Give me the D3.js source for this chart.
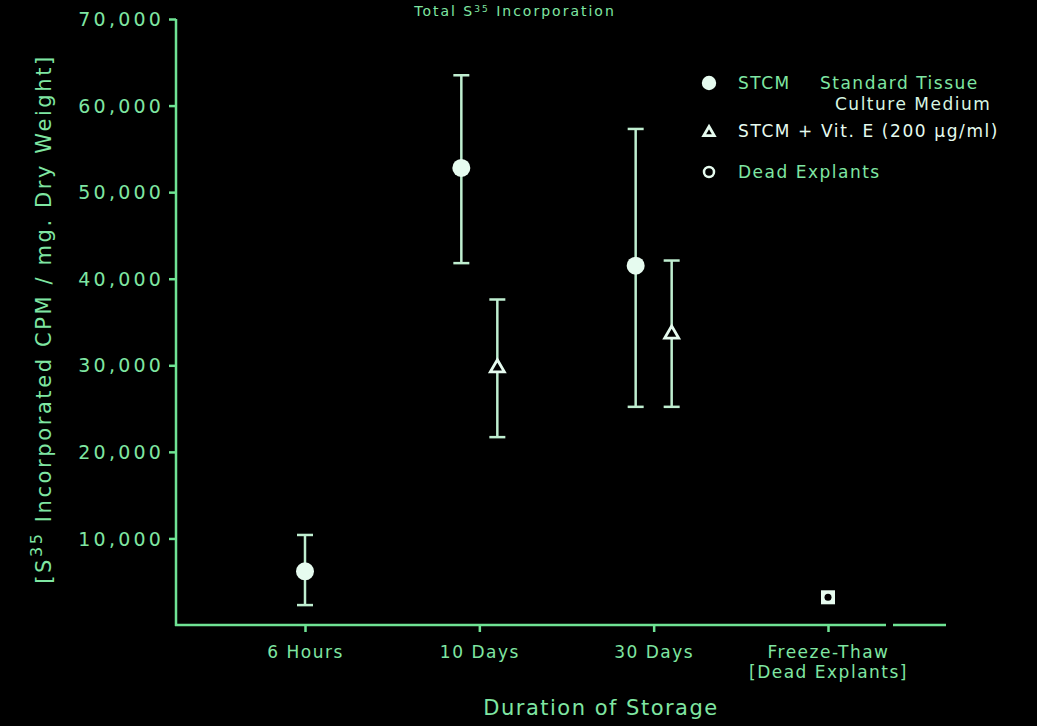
<!DOCTYPE html>
<html><head><meta charset="utf-8">
<script src="https://cdn.jsdelivr.net/npm/d3@7"></script>
<style>
html,body{margin:0;padding:0;background:#000;}
svg{display:block;}
text{font-family:"DejaVu Sans",sans-serif;}
</style></head>
<body>
<svg id="c" width="1037" height="726"></svg>
<script>
const categories = ["6 Hours", "10 Days", "30 Days", "Freeze-Thaw"];
const categoryLine2 = ["", "", "", "[Dead Explants]"];
const yTicks = [10000, 20000, 30000, 40000, 50000, 60000, 70000];

const stcmMean = [6200, 52800, 41500, null];
const stcmLow  = [2300, 41800, 25200, null];
const stcmHigh = [10400, 63500, 57300, null];

const vitEMean = [null, 29800, 33700, null];
const vitELow  = [null, 21700, 25200, null];
const vitEHigh = [null, 37600, 42100, null];

const deadMean = [null, null, null, 3200];

const seriesNames = ["STCM", "Vit. E", "Dead"];

const green = "#7fe6a2";
const white = "#e6fbef";
const axisGreen = "#6fe394";

const svg = d3.select("#c");
const x0 = 176, yBase = 625;
const x = d3.scalePoint().domain(categories).range([305, 828]);
const y = d3.scaleLinear().domain([0, 70000]).range([yBase, 19]);

// title
svg.append("text").attr("x", 515).attr("y", 16).attr("text-anchor", "middle")
  .attr("fill", green).attr("font-size", 14).attr("letter-spacing", 2)
  .html('Total S<tspan dy="-4" font-size="9">35</tspan><tspan dy="4"> Incorporation</tspan>');

// y axis
const yAxis = svg.append("g").attr("transform", `translate(${x0},0)`)
  .call(d3.axisLeft(y).tickValues(yTicks).tickSize(7).tickPadding(5).tickFormat(d3.format(",")));
yAxis.select(".domain").remove();
yAxis.selectAll("line").attr("stroke", axisGreen).attr("stroke-width", 2.5);
yAxis.selectAll("text").attr("fill", green).attr("font-size", 19).attr("letter-spacing", 3.2).attr("dy", "0.35em");
svg.append("line").attr("x1", x0).attr("x2", x0).attr("y1", y(70000)).attr("y2", yBase + 1)
  .attr("stroke", axisGreen).attr("stroke-width", 2.5);

// x axis with break
svg.append("line").attr("x1", x0 - 1).attr("x2", 886).attr("y1", yBase).attr("y2", yBase)
  .attr("stroke", axisGreen).attr("stroke-width", 2.5);
svg.append("line").attr("x1", 893).attr("x2", 946).attr("y1", yBase).attr("y2", yBase)
  .attr("stroke", axisGreen).attr("stroke-width", 2.5);
const xAxis = svg.append("g").attr("transform", `translate(0,${yBase})`)
  .call(d3.axisBottom(x).tickSize(7).tickPadding(14));
xAxis.select(".domain").remove();
xAxis.selectAll("line").attr("stroke", axisGreen).attr("stroke-width", 2.5);
xAxis.selectAll("text").attr("fill", green).attr("font-size", 17).attr("letter-spacing", 1.5);
xAxis.selectAll(".tick").each(function(d) {
  const t = categoryLine2[categories.indexOf(d)];
  if (t) d3.select(this).append("text").attr("y", 41).attr("dy", "0.71em")
    .attr("fill", green).attr("font-size", 17).attr("letter-spacing", 1.5)
    .attr("text-anchor", "middle").text(t);
});

// axis titles
svg.append("text").attr("x", 601).attr("y", 715).attr("text-anchor", "middle")
  .attr("fill", green).attr("font-size", 21).attr("letter-spacing", 1.5).text("Duration of Storage");
svg.append("text").attr("transform", "translate(51,319) rotate(-90)").attr("text-anchor", "middle")
  .attr("fill", green).attr("font-size", 21).attr("letter-spacing", 2.6)
  .html('[S<tspan dy="-9" font-size="16">35</tspan><tspan dy="9">  Incorporated  CPM / mg. Dry Weight]</tspan>');

// build points
const series = [
  {name: seriesNames[0], mean: stcmMean, low: stcmLow, high: stcmHigh, shape: "dot"},
  {name: seriesNames[1], mean: vitEMean, low: vitELow, high: vitEHigh, shape: "tri"},
  {name: seriesNames[2], mean: deadMean, low: null, high: null, shape: "sq"}
];
const points = [];
categories.forEach((c, i) => {
  const present = series.filter(s => s.mean[i] != null);
  const sub = d3.scaleBand().domain(present.map(s => s.name)).range([-36, 36]).padding(0);
  present.forEach(s => {
    const cx = present.length > 1 ? x(c) + sub(s.name) + sub.bandwidth() / 2 : x(c);
    points.push({cx, s, mean: s.mean[i], low: s.low ? s.low[i] : null, high: s.high ? s.high[i] : null});
  });
});

const g = svg.append("g");
const errs = points.filter(p => p.low != null);
const ebColor = "#bfeed0";
g.selectAll(".eb").data(errs).enter().append("line")
  .attr("x1", d => d.cx).attr("x2", d => d.cx).attr("y1", d => y(d.low)).attr("y2", d => y(d.high))
  .attr("stroke", ebColor).attr("stroke-width", 2.5);
g.selectAll(".capT").data(errs).enter().append("line")
  .attr("x1", d => d.cx - 8).attr("x2", d => d.cx + 8).attr("y1", d => y(d.high)).attr("y2", d => y(d.high))
  .attr("stroke", ebColor).attr("stroke-width", 2.5);
g.selectAll(".capB").data(errs).enter().append("line")
  .attr("x1", d => d.cx - 8).attr("x2", d => d.cx + 8).attr("y1", d => y(d.low)).attr("y2", d => y(d.low))
  .attr("stroke", ebColor).attr("stroke-width", 2.5);

function drawMarker(sel, shape, cx, cy, scale) {
  if (shape === "dot") {
    sel.append("circle").attr("cx", cx).attr("cy", cy).attr("r", 9 * scale).attr("fill", white);
  } else if (shape === "tri") {
    const s = 14 * scale;
    const h = s * 0.87;
    sel.append("path").attr("d", `M${cx},${cy - h * 0.6}L${cx + s / 2},${cy + h * 0.4}L${cx - s / 2},${cy + h * 0.4}Z`)
      .attr("fill", "#000").attr("stroke", white).attr("stroke-width", 2.8);
  } else if (shape === "sq") {
    sel.append("rect").attr("x", cx - 7).attr("y", cy - 7).attr("width", 14).attr("height", 14).attr("fill", white);
    sel.append("circle").attr("cx", cx).attr("cy", cy).attr("r", 3.5).attr("fill", "#000");
  } else if (shape === "ring") {
    sel.append("circle").attr("cx", cx).attr("cy", cy).attr("r", 5).attr("fill", "none")
      .attr("stroke", white).attr("stroke-width", 2.5);
  }
}
points.forEach(p => drawMarker(g, p.s.shape, p.cx, y(p.mean), 1));

// legend
const leg = svg.append("g");
const lfs = 17;
drawMarker(leg, "dot", 709, 83, 0.8);
leg.append("text").attr("x", 738).attr("y", 89).attr("fill", green).attr("font-size", lfs).attr("letter-spacing", 1.5).text("STCM");
leg.append("text").attr("x", 820).attr("y", 89).attr("fill", green).attr("font-size", lfs).attr("letter-spacing", 1.5).text("Standard Tissue");
leg.append("text").attr("x", 835).attr("y", 110).attr("fill", "#d8f6e3").attr("font-size", lfs).attr("letter-spacing", 1.5).text("Culture Medium");
drawMarker(leg, "tri", 709, 132, 0.75);
leg.append("text").attr("x", 738).attr("y", 137).attr("fill", white).attr("font-size", lfs).attr("letter-spacing", 1.6).text("STCM + Vit. E (200 μg/ml)");
drawMarker(leg, "ring", 709, 172, 1);
leg.append("text").attr("x", 738).attr("y", 178).attr("fill", green).attr("font-size", lfs).attr("letter-spacing", 1.5).text("Dead Explants");
</script>
</body></html>
